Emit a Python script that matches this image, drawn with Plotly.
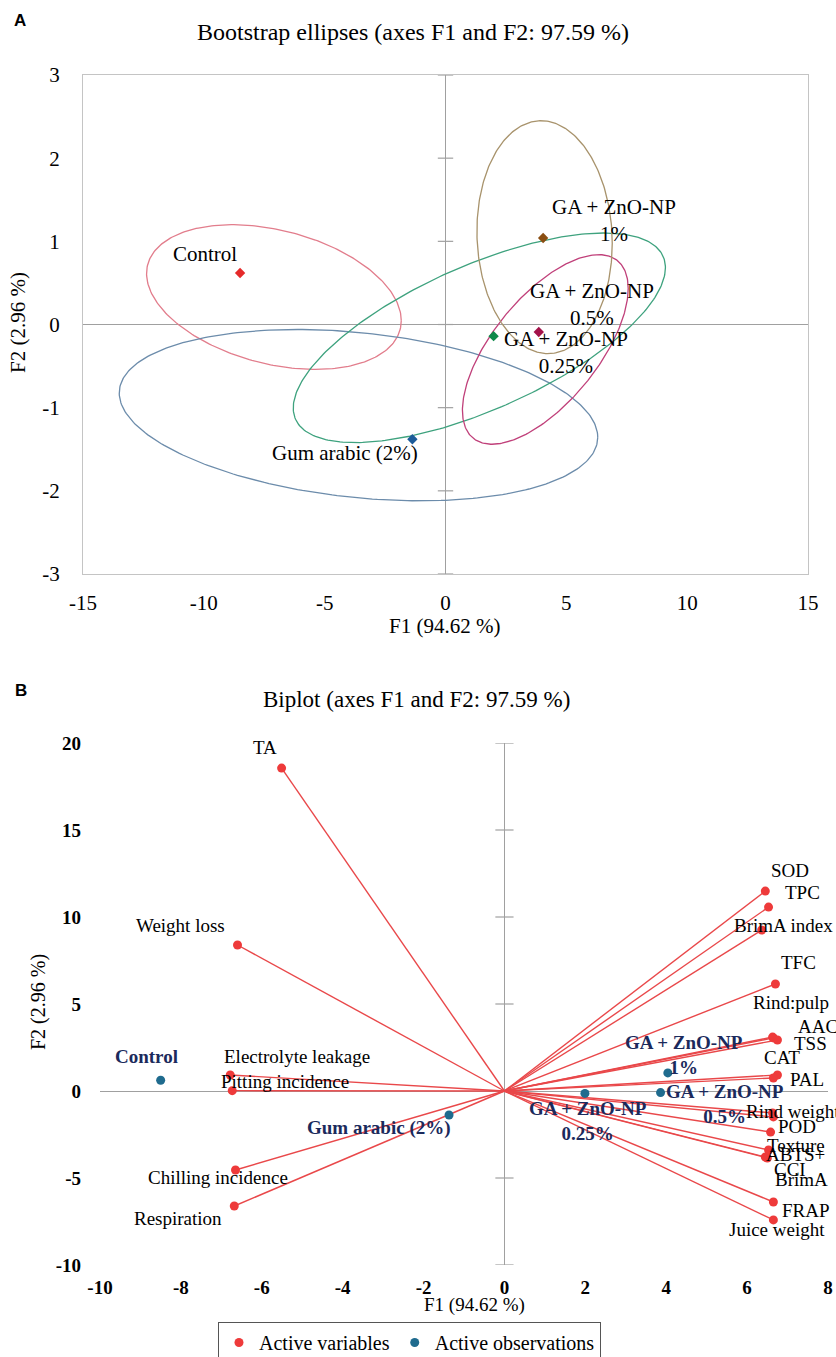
import numpy as np
import plotly.graph_objects as go

W, H = 836, 1357

# ---------------- data ----------------
obs_names = ["Control", "Gum arabic (2%)", "GA + ZnO-NP 0.25%", "GA + ZnO-NP 0.5%", "GA + ZnO-NP 1%"]
obs_labels = ["Control", "Gum arabic (2%)", "GA + ZnO-NP<br>0.25%", "GA + ZnO-NP<br>0.5%", "GA + ZnO-NP<br>1%"]
obs_f1 = [-8.50, -1.37, 1.99, 3.86, 4.04]
obs_f2 = [0.62, -1.38, -0.14, -0.09, 1.04]

# bootstrap ellipse parameters (centre, half-extent in F1/F2, phase)
ell_cx = [-7.10, -3.60, 1.40, 4.13, 4.10]
ell_cy = [0.33, -1.09, -0.16, -0.30, 1.05]
ell_rx = [5.27, 9.90, 7.70, 3.43, 2.80]
ell_ry = [0.87, 1.03, 1.26, 1.14, 1.40]
ell_phase_deg = [109, 105, 48, 50, 93]

var_names = ["TA", "Weight loss", "Electrolyte leakage", "Pitting incidence", "Chilling incidence",
             "Respiration", "SOD", "TPC", "BrimA index", "TFC", "Rind:pulp", "AAC", "TSS", "CAT",
             "PAL", "Rind weight", "POD", "Texture", "ABTS+", "CCI", "BrimA", "FRAP", "Juice weight"]
var_f1 = [-5.51, -6.60, -6.78, -6.73, -6.65, -6.68, 6.45, 6.53, 6.36, 6.70, 6.63, 6.65, 6.75, 6.75,
          6.65, 6.63, 6.65, 6.58, 6.45, 6.50, 6.53, 6.65, 6.65]
var_f2 = [18.56, 8.39, 0.92, 0.02, -4.54, -6.61, 11.49, 10.57, 9.25, 6.15, 3.10, 3.05, 2.93, 0.92,
          0.75, -1.26, -1.49, -2.36, -3.79, -3.85, -3.39, -6.38, -7.41]

xticksA = [-15, -10, -5, 0, 5, 10, 15]
yticksA = [-3, -2, -1, 0, 1, 2, 3]
xticksB = [-10, -8, -6, -4, -2, 0, 2, 4, 6, 8]
yticksB = [-10, -5, 0, 5, 10, 15, 20]

# ---------------- styles ----------------
SERIF = "Liberation Serif"
SANS = "Liberation Sans"
ell_colors = ["#E27D8C", "#6C8CAB", "#3EA27E", "#C0407A", "#A8936C"]
obs_colors_A = ["#E52A2A", "#1D5C9A", "#0E8A4A", "#A3124A", "#8A4E12"]
obs_label_offA = [(-35, 19), (-67, -14), (72, -16), (53, 27), (71, 18)]
obs_label_offB = [(-14, 24), (-70, -13), (3, -28), (64, -11), (16, 18)]
var_label_off = {
    "TA": (-17, 21), "Weight loss": (-57, 20), "Electrolyte leakage": (67, 18),
    "Pitting incidence": (53, 9), "Chilling incidence": (-17, -7), "Respiration": (-56, -12),
    "SOD": (25, 21), "TPC": (34, 15), "BrimA index": (22, 5), "TFC": (23, 21),
    "Rind:pulp": (18, 35), "AAC": (45, 11), "TSS": (33, -3), "CAT": (5, 17), "PAL": (34, -2),
    "Rind weight": (20, 1), "POD": (24, -10), "Texture": (25, -13), "ABTS+": (30, 2),
    "CCI": (23, -12), "BrimA": (33, -30), "FRAP": (33, -8), "Juice weight": (4, -10),
}
RED = "#EE3A3A"
RED_LINE = "#E9484A"
TEAL = "#1F6B8E"
NAVY = "#1B2A5C"
GRAY = "#A0A0A0"


def px_x(p):
    return p / W


def px_y(p):
    return 1 - p / H


def hyphen_labels(vals):
    return [str(v) for v in vals]


fig = go.Figure()

# ---------------- panel A ----------------
t = np.linspace(0, 2 * np.pi, 300)
for i in range(len(obs_names)):
    ph = np.deg2rad(ell_phase_deg[i])
    ex = ell_cx[i] + ell_rx[i] * np.cos(t)
    ey = ell_cy[i] + ell_ry[i] * np.cos(t + ph)
    fig.add_trace(go.Scatter(x=ex, y=ey, mode="lines", line=dict(color=ell_colors[i], width=1.3),
                             xaxis="x", yaxis="y", showlegend=False, hoverinfo="skip"))

# tick marks on the vertical zero axis
fig.add_trace(go.Scatter(x=[0] * len(yticksA), y=yticksA, mode="markers",
                         marker=dict(symbol="line-ew", size=11, line=dict(color=GRAY, width=1.2)),
                         xaxis="x", yaxis="y", showlegend=False, hoverinfo="skip"))

fig.add_trace(go.Scatter(x=obs_f1, y=obs_f2, mode="markers",
                         marker=dict(symbol="diamond", size=8, color=obs_colors_A),
                         xaxis="x", yaxis="y", showlegend=False, text=obs_names))

for i in range(len(obs_names)):
    dx, dy = obs_label_offA[i]
    fig.add_annotation(x=obs_f1[i], y=obs_f2[i], xref="x", yref="y", text=obs_labels[i],
                       showarrow=False, xshift=dx, yshift=dy,
                       font=dict(family=SERIF, size=21, color="black"))

# ---------------- panel B ----------------
fig.add_trace(go.Scatter(x=[0] * len(yticksB), y=yticksB, mode="markers",
                         marker=dict(symbol="line-ew", size=13, line=dict(color=GRAY, width=1.2)),
                         xaxis="x2", yaxis="y2", showlegend=False, hoverinfo="skip"))

lx, ly = [], []
for a, b in zip(var_f1, var_f2):
    lx += [0, a, None]
    ly += [0, b, None]
fig.add_trace(go.Scatter(x=lx, y=ly, mode="lines", line=dict(color=RED_LINE, width=1.4),
                         xaxis="x2", yaxis="y2", showlegend=False, hoverinfo="skip"))

fig.add_trace(go.Scatter(x=var_f1, y=var_f2, mode="markers", name="Active variables",
                         marker=dict(size=9, color=RED), text=var_names,
                         xaxis="x2", yaxis="y2", showlegend=True))
fig.add_trace(go.Scatter(x=obs_f1, y=obs_f2, mode="markers", name="Active observations",
                         marker=dict(size=9, color=TEAL), text=obs_names,
                         xaxis="x2", yaxis="y2", showlegend=True))

for n, a, b in zip(var_names, var_f1, var_f2):
    dx, dy = var_label_off[n]
    fig.add_annotation(x=a, y=b, xref="x2", yref="y2", text=n, showarrow=False,
                       xshift=dx, yshift=dy, font=dict(family=SERIF, size=19, color="black"))

for i in range(len(obs_names)):
    dx, dy = obs_label_offB[i]
    fig.add_annotation(x=obs_f1[i], y=obs_f2[i], xref="x2", yref="y2", text=obs_labels[i],
                       showarrow=False, xshift=dx, yshift=dy,
                       font=dict(family=SERIF, size=19, color=NAVY, weight="bold"))

# ---------------- titles / labels ----------------
def paper_text(x, y, text, size, family=SERIF, bold=False, angle=0, color="black"):
    fig.add_annotation(x=px_x(x), y=px_y(y), xref="paper", yref="paper", text=text,
                       showarrow=False, xanchor="center", yanchor="middle", textangle=angle,
                       font=dict(family=family, size=size, color=color,
                                 weight="bold" if bold else "normal"))


paper_text(20, 20, "A", 17, family=SANS, bold=True)
paper_text(413, 32, "Bootstrap ellipses (axes F1 and F2: 97.59 %)", 24)
paper_text(444, 626, "F1 (94.62 %)", 21)
paper_text(18, 323, "F2 (2.96 %)", 21, angle=-90)

paper_text(21, 690, "B", 17, family=SANS, bold=True)
paper_text(416, 699, "Biplot (axes F1 and F2: 97.59 %)", 23)
paper_text(474, 1305, "F1 (94.62 %)", 19)
paper_text(38, 1002, "F2 (2.96 %)", 20, angle=-90)

fig.update_layout(
    width=W, height=H,
    margin=dict(l=0, r=0, t=0, b=0, autoexpand=False),
    paper_bgcolor="white", plot_bgcolor="white",
    font=dict(family=SERIF, color="black"),
    xaxis=dict(domain=[px_x(83), px_x(808)], range=[-15, 15], tickvals=xticksA,
               ticktext=hyphen_labels(xticksA),
               showgrid=False, zeroline=True, zerolinecolor=GRAY, zerolinewidth=1,
               showline=True, mirror=True, linecolor="#C4C4C4", linewidth=1,
               ticks="", tickfont=dict(size=21, family=SERIF), ticklabelstandoff=10,
               anchor="y", fixedrange=True),
    yaxis=dict(domain=[px_y(574), px_y(75)], range=[-3, 3], tickvals=yticksA,
               ticktext=hyphen_labels(yticksA),
               showgrid=False, zeroline=True, zerolinecolor=GRAY, zerolinewidth=1,
               showline=True, mirror=True, linecolor="#C4C4C4", linewidth=1,
               ticks="", tickfont=dict(size=21, family=SERIF), ticklabelstandoff=18,
               anchor="x", fixedrange=True),
    xaxis2=dict(domain=[px_x(100), px_x(828)], range=[-10, 8], tickvals=xticksB,
                ticktext=hyphen_labels(xticksB),
                showgrid=False, zeroline=True, zerolinecolor=GRAY, zerolinewidth=1.2,
                showline=False, ticks="", tickfont=dict(size=19, family=SERIF, weight="bold"),
                ticklabelstandoff=9, anchor="y2", fixedrange=True),
    yaxis2=dict(domain=[px_y(1265), px_y(743)], range=[-10, 20], tickvals=yticksB,
                ticktext=hyphen_labels(yticksB),
                showgrid=False, zeroline=True, zerolinecolor=GRAY, zerolinewidth=1.2,
                showline=False, ticks="", tickfont=dict(size=19, family=SERIF, weight="bold"),
                ticklabelstandoff=18, anchor="x2", fixedrange=True),
    legend=dict(orientation="h", x=px_x(218), xanchor="left", y=px_y(1322), yanchor="top",
                bordercolor="#555555", borderwidth=1, bgcolor="white",
                font=dict(family=SERIF, size=20, color="black"), itemwidth=30),
)

fig.write_html("out.html")
